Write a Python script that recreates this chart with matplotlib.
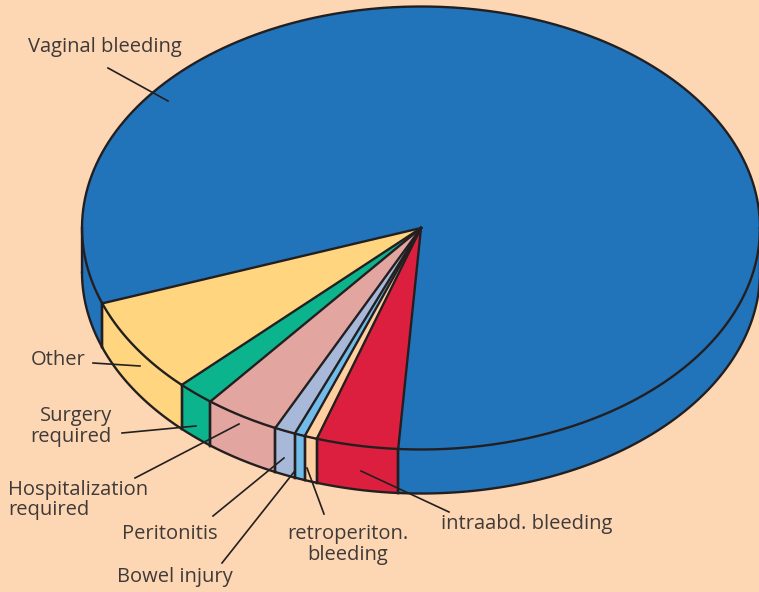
"""Pseudo-3D pie of complication shares, drawn on a pixel-sized axes."""
import matplotlib
matplotlib.use("Agg")
import matplotlib.pyplot as plt
import numpy as np

# shares in percent, counter-clockwise from the Vaginal/Other edge
categories = ["Other", "Surgery required", "Hospitalization required", "Peritonitis",
              "Bowel injury", "retroperiton. bleeding", "intraabd. bleeding", "Vaginal bleeding"]
shares = [7.0, 1.8, 3.6, 1.0, 0.5, 0.6, 3.9, 81.6]
colors = ["#FFD580", "#0BB48C", "#E2A5A0", "#A8B8D8", "#71BCE8", "#FFCFA0", "#DC1F3E", "#2173BA"]

BG = "#FDD7B4"
INK = "#231F20"
TEXT = "#3F3A38"
CX, CY, RX, RY, DEPTH = 421, 228, 339, 221.5, 44
START = 199.9
LW = 1.7

# label text, x, baseline y, ha / leader from -> to
labels = [
    ("Vaginal bleeding", 28, 52, "left"),
    ("Other", 31, 365, "left"),
    ("Surgery", 112, 421, "right"),
    ("required", 112, 442, "right"),
    ("Hospitalization", 8, 495, "left"),
    ("required", 8, 515, "left"),
    ("Peritonitis", 122, 539, "left"),
    ("Bowel injury", 117, 582, "left"),
    ("retroperiton.", 348, 539, "center"),
    ("bleeding", 348, 560, "center"),
    ("intraabd. bleeding", 441, 529, "left"),
]
leaders = [
    ((108, 68), (168, 101)),
    ((93, 363), (140, 366)),
    ((122, 433), (196, 426)),
    ((135, 478), (239, 424)),
    ((213, 516), (284, 458)),
    ((222, 563), (294, 472)),
    ((324, 514), (307, 468)),
    ((449, 512), (361, 471)),
]


def rim(t_deg, drop=0.0):
    t = np.radians(t_deg)
    return CX + RX * np.cos(t), CY - RY * np.sin(t) + drop


fig = plt.figure(figsize=(7.59, 5.92), dpi=100, facecolor=BG)
ax = fig.add_axes([0, 0, 1, 1])
ax.set_xlim(0, 759)
ax.set_ylim(592, 0)
ax.axis("off")

edges = START + np.concatenate([[0], np.cumsum(shares)]) * 3.6

# side wall first: only the front half (180..360) of the cylinder shows
for a0, a1, col in zip(edges[:-1], edges[1:], colors):
    for off in (0, -360):
        lo, hi = max(a0 + off, 180), min(a1 + off, 360)
        if hi <= lo:
            continue
        t = np.linspace(lo, hi, 120)
        xt, yt = rim(t)
        xb, yb = rim(t[::-1], DEPTH)
        ax.fill(np.r_[xt, xb], np.r_[yt, yb], color=col, lw=0, zorder=1)
        ax.plot(*rim(t, DEPTH), color=INK, lw=LW, zorder=3, solid_capstyle="round")
        for a in (lo, hi):
            xa, ya = rim(a)
            ax.plot([xa, xa], [ya, ya + DEPTH], color=INK, lw=LW, zorder=3)

# top face
for a0, a1, col in zip(edges[:-1], edges[1:], colors):
    t = np.linspace(a0, a1, 400)
    xt, yt = rim(t)
    ax.fill(np.r_[CX, xt], np.r_[CY, yt], color=col, lw=0, zorder=2)
for a in edges[:-1]:
    xa, ya = rim(a)
    ax.plot([CX, xa], [CY, ya], color=INK, lw=LW, zorder=4)
ax.plot(*rim(np.linspace(0, 360, 720)), color=INK, lw=LW, zorder=4)

for (x0, y0), (x1, y1) in leaders:
    ax.plot([x0, x1], [y0, y1], color=INK, lw=1.2, zorder=5)
for txt, x, y, ha in labels:
    ax.text(x, y, txt, ha=ha, va="baseline", fontsize=14.5, family="Open Sans",
            color=TEXT, zorder=6)

fig.savefig("out.png", dpi=100, facecolor=BG)
